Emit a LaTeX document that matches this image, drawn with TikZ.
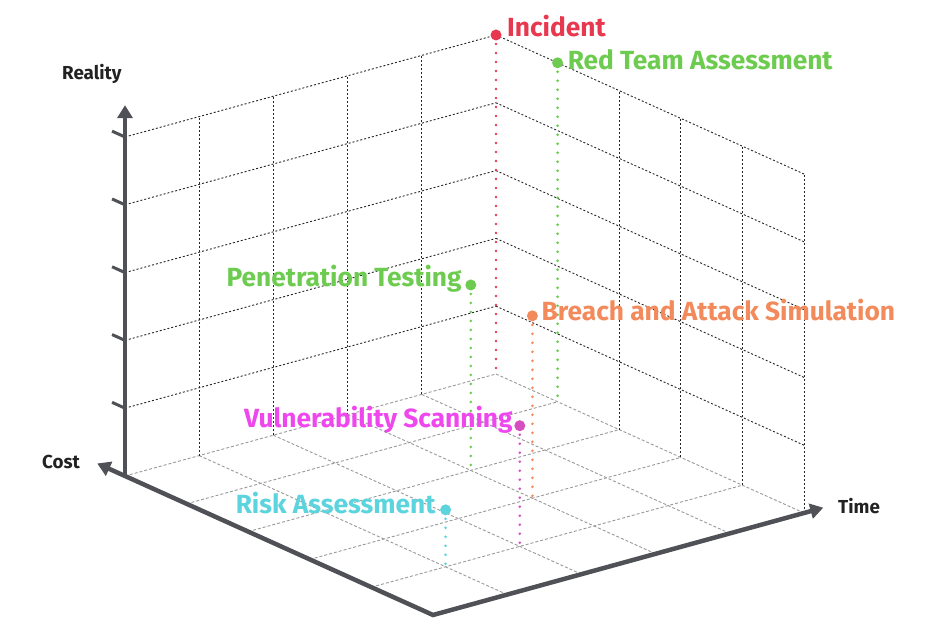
\documentclass[tikz,border=0pt]{standalone}
\usepackage{fontspec}
\setmainfont{Fira Sans}
\usetikzlibrary{arrows.meta}
\definecolor{incred}{HTML}{E8384F}
\definecolor{grn}{HTML}{6DCC4F}
\definecolor{orng}{HTML}{F28A5B}
\definecolor{mgt}{HTML}{EE47EE}
\definecolor{mgtdot}{HTML}{D64FC0}
\definecolor{cyn}{HTML}{5CD4DD}
\definecolor{axisc}{HTML}{4F5156}
\definecolor{axlab}{HTML}{222222}
\tikzset{
  wallgrid/.style={draw=black!85, line width=0.9pt, dash pattern=on 2pt off 2pt},
  floorgrid/.style={draw=black!40, line width=0.9pt, dash pattern=on 3pt off 2pt},
  axisline/.style={draw=axisc, line width=4.5pt, line join=miter},
  tickline/.style={draw=axisc, line width=3pt},
  ptdot/.style={circle, inner sep=0pt, minimum size=11pt, fill=#1},
  drop/.style={draw=#1, line width=2.9pt, line cap=round, dash pattern=on 0pt off 9pt},
  lbl/.style={text=#1, font=\fontsize{26.3}{28}\selectfont\bfseries, inner sep=0pt},
  axlbl/.style={text=axlab, font=\fontsize{18.8}{20}\selectfont\bfseries, inner sep=0pt, anchor=base west},
  axtip/.tip={Triangle[width=15pt,length=13pt]}
}
\begin{document}
\begin{tikzpicture}[x=1pt,y=1pt]
\useasboundingbox (0,0) rectangle (938,623);
\begin{scope}[shift={(433,8)}, x={(74.2pt,20.4pt)}, y={(-61.6pt,27.8pt)}, z={(0pt,67.8pt)}]
  % floor grid
  \foreach \c in {1,...,5} \draw[floorgrid] (0,\c,0) -- (5,\c,0);
  \foreach \t in {1,...,5} \draw[floorgrid] (\t,0,0) -- (\t,5,0);
  % left wall
  \foreach \t in {1,...,4} \draw[wallgrid] (\t,5,0) -- (\t,5,5);
  \foreach \r in {1,...,5} \draw[wallgrid] (0,5,\r) -- (5,5,\r);
  % right wall
  \foreach \c in {0,...,3} \draw[wallgrid] (5,\c,0) -- (5,\c,5);
  \foreach \r in {1,...,5} \draw[wallgrid] (5,0,\r) -- (5,5,\r);
  % axes
  \coordinate (F) at (0,0,0);
  \coordinate (O) at (0,5,0);
  \coordinate (costtip) at (0,5.45,0);
  \coordinate (timetip) at (5.26,0,0);
  \coordinate (realtip) at (0,5,5.47);
  \draw[axisline, axtip-axtip] (costtip) -- (F) -- (timetip);
  \draw[axisline, -axtip] (O) -- (realtip);
  \foreach \r in {1,...,5} \draw[tickline] (0,5,\r) -- (0,5.21,\r);
  % data points
  \coordinate (incF) at (5,5,0);   \coordinate (incP) at (5,5,5);
  \coordinate (redF) at (5,4,0);   \coordinate (redP) at (5,4,5);
  \coordinate (penF) at (3,3,0);   \coordinate (penP) at (3,3,2.735);
  \coordinate (brF) at (3,2,0);    \coordinate (brP) at (3,2,2.69);
  \coordinate (vsF) at (2,1,0);    \coordinate (vsP) at (2,1,1.78);
  \coordinate (raF) at (1,1,0);    \coordinate (raP) at (1,1,0.84);
\end{scope}
\draw[drop=incred] (incP) -- (incF);
\draw[drop=grn] (redP) -- (redF);
\draw[drop=grn] (penP) -- (penF);
\draw[drop=orng] (brP) -- (brF);
\draw[drop=mgtdot] (vsP) -- (vsF);
\draw[drop=cyn] (raP) -- (raF);
\node[ptdot=incred] (inc) at (incP) {};
\node[ptdot=grn] (red) at (redP) {};
\node[ptdot=grn] (pen) at (penP) {};
\node[ptdot=orng] (br) at (brP) {};
\node[ptdot=mgtdot] (vs) at (vsP) {};
\node[ptdot=cyn] (ra) at (raP) {};
\node[lbl=incred, anchor=base west] (incL) at ([shift={(11,-2)}]inc.center) {Incident};
\node[lbl=grn, anchor=base west] (redL) at ([shift={(10,-7)}]red.center) {Red Team Assessment};
\node[lbl=grn, anchor=base east] (penL) at ([shift={(-9,-2)}]pen.center) {Penetration Testing};
\node[lbl=orng, anchor=base west] (brL) at ([shift={(9,-5)}]br.center) {Breach and Attack Simulation};
\node[lbl=mgt, anchor=base east] (vsL) at ([shift={(-7,-2)}]vs.center) {Vulnerability Scanning};
\node[lbl=cyn, anchor=base east] (raL) at ([shift={(-10,-4)}]ra.center) {Risk Assessment};
\node[axlbl] (realL) at (62,543) {Reality};
\node[axlbl] (costL) at (42,154) {Cost};
\node[axlbl] (timeL) at (838,109) {Time};
\end{tikzpicture}
\end{document}
